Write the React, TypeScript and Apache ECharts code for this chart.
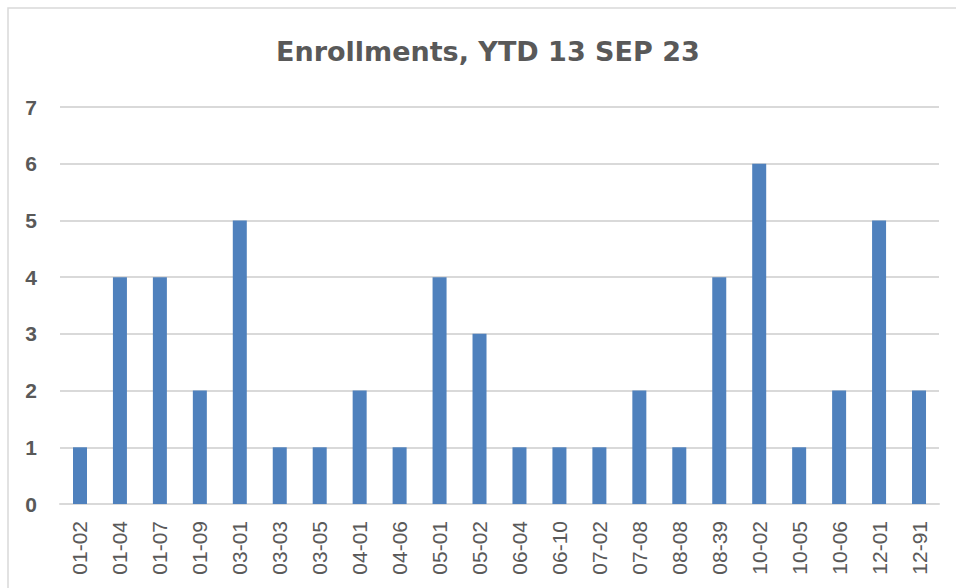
import React, { useEffect, useRef } from "react";
import * as echarts from "echarts";

const categories = ["01-02","01-04","01-07","01-09","03-01","03-03","03-05","04-01","04-06","05-01","05-02","06-04","06-10","07-02","07-08","08-08","08-39","10-02","10-05","10-06","12-01","12-91"];
const enrollments = [1,4,4,2,5,1,1,2,1,4,3,1,1,1,2,1,4,6,1,2,5,2];
const titleText = "Enrollments, YTD 13 SEP 23";

export default function App() {
  const ref = useRef<HTMLDivElement>(null);
  useEffect(() => {
    if (!ref.current) return;
    const chart = echarts.init(ref.current, undefined, { renderer: "svg" });
    chart.setOption({
      animation: false,
      backgroundColor: "#ffffff",
      title: {
        text: titleText,
        left: 271,
        top: 33,
        textStyle: { fontFamily: "DejaVu Sans", fontWeight: "bold", fontSize: 27, color: "#595959" },
      },
      graphic: [
        {
          type: "rect",
          shape: { x: 8, y: 8, width: 1000, height: 1000 },
          style: { fill: "none", stroke: "#d9d9d9", lineWidth: 1.5 },
          silent: true,
        },
      ],
      grid: { left: 60, right: 17, top: 107, bottom: 84 },
      xAxis: {
        type: "category",
        data: categories,
        axisLine: { lineStyle: { color: "#d9d9d9", width: 2 } },
        axisTick: { show: false },
        axisLabel: {
          rotate: 90,
          margin: 17,
          fontFamily: "Liberation Sans",
          fontSize: 21,
          color: "#595959",
        },
      },
      yAxis: {
        type: "value",
        min: 0,
        max: 7,
        interval: 1,
        axisLine: { show: false },
        axisTick: { show: false },
        splitLine: { lineStyle: { color: "#d9d9d9", width: 2 } },
        axisLabel: {
          margin: 23,
          fontFamily: "Liberation Sans",
          fontWeight: "bold",
          fontSize: 21,
          color: "#595959",
        },
      },
      series: [
        {
          type: "bar",
          data: enrollments,
          barWidth: 14,
          itemStyle: { color: "#4f81bd" },
        },
      ],
    });
    return () => chart.dispose();
  }, []);
  return <div ref={ref} style={{ position: "fixed", left: 0, top: 0, width: 956, height: 588 }} />;
}
